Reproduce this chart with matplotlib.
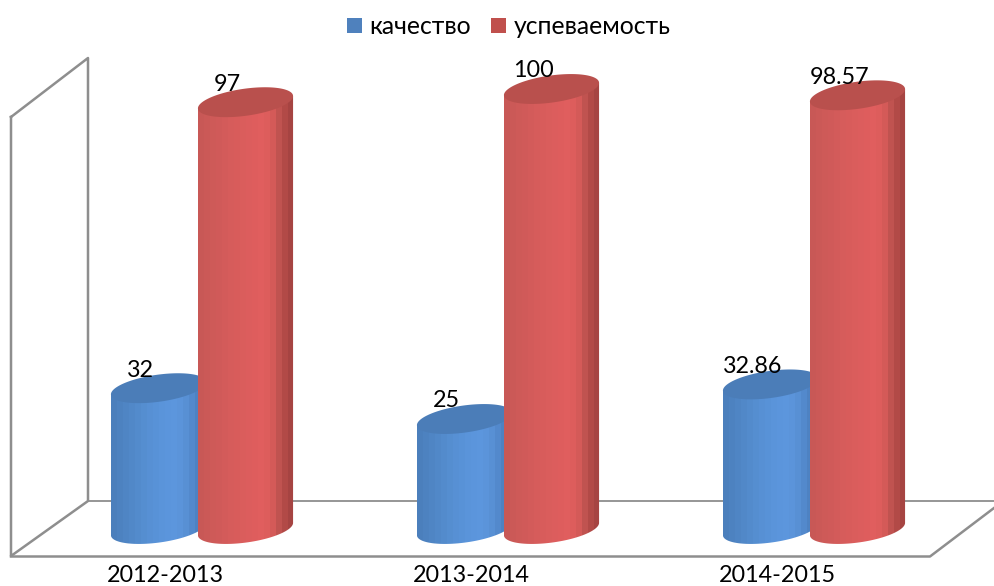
import numpy as np
import matplotlib
matplotlib.use("Agg")
import matplotlib.pyplot as plt
from matplotlib.patches import Patch, Polygon
from matplotlib.transforms import Affine2D
from matplotlib.colors import to_rgb

plt.rcParams['font.family'] = ['Lato', 'Open Sans', 'DejaVu Sans']

# data
years = ['2012-2013', '2013-2014', '2014-2015']
kachestvo = [32, 25, 32.86]
uspevaemost = [97, 100, 98.57]
kachestvo_labels = ['32', '25', '32.86']
uspevaemost_labels = ['97', '100', '98.57']

# scale: pixels per group and per value unit
PX_X = 306.0
PX_Y = 4.4
W, H = 994, 586

# stepped shading across the cylinder, left to right
BLUE_STOPS = ['#4b7fbc', '#4d82c0', '#4f85c4', '#5188c8', '#538bcc', '#558ed0', '#5790d4', '#5892d7',
              '#5a94da', '#5b95dc', '#5c96dd', '#5b94da', '#5890d4', '#5389cc', '#4e82c2', '#4a7bb6']
RED_STOPS = ['#c85856', '#cb5957', '#ce5a58', '#d05a59', '#d35b5a', '#d65c5b', '#d85c5b', '#da5d5c',
             '#dc5d5d', '#de5d5d', '#e05e5e', '#dd5d5c', '#d45a58', '#c05350', '#b24a47', '#a64442']
BLUE_TOP = '#4b7db8'
RED_TOP = '#b9504d'


def ellipse(cx, value, a=48, b=13.5, tilt=8):
    """Tilted ellipse around a data point, sizes given in pixels"""
    t = np.linspace(0, 2 * np.pi, 241)
    ang = np.radians(tilt)
    dx = a * np.cos(t) * np.cos(ang) - b * np.sin(t) * np.sin(ang)
    dy = a * np.cos(t) * np.sin(ang) + b * np.sin(t) * np.cos(ang)
    return cx + dx / PX_X, value + dy / PX_Y


def draw_cylinder(ax, cx, value, stops, top_color, z):
    bx, by = ellipse(cx, 0)
    tx, ty = ellipse(cx, value)
    il, ir = np.argmin(bx), np.argmax(bx)
    # lower half of the base, from right extreme to left extreme
    idx = np.arange(il, ir + 1) if ir > il else np.r_[il:len(bx), 0:ir + 1]
    verts = np.column_stack([np.r_[bx[idx], tx[ir], tx[il]], np.r_[by[idx], ty[ir], ty[il]]])
    body = Polygon(verts, closed=True, facecolor='none', edgecolor='none', zorder=z)
    ax.add_patch(body)
    img = np.array([[to_rgb(c) for c in stops]])
    im = ax.imshow(img, extent=(bx.min(), bx.max(), -5, 110), aspect='auto',
                   interpolation='nearest', zorder=z)
    im.set_clip_path(body)
    ax.fill(tx, ty, color=top_color, zorder=z + 0.1, lw=0)


fig = plt.figure(figsize=(W / 100, H / 100), dpi=100)
ax = fig.add_axes([0, 0, 1, 1])
ax.axis('off')

# grey 3D box of the chart, in pixel coordinates
px = Affine2D().scale(1 / W, -1 / H).translate(0, 1) + fig.transFigure
wall_color = '#8e8e8e'
ax.plot([11, 88, 88, 11, 11], [117, 58, 501, 556, 117], color=wall_color, lw=1.8, transform=px, zorder=1)
ax.plot([88, 994], [501, 501], color=wall_color, lw=1.3, transform=px, zorder=1)
ax.plot([11, 930, 994], [556.5, 556.5, 508], color=wall_color, lw=1.8, transform=px, zorder=1)

offset = 87 / PX_X / 2
for i in range(len(years)):
    draw_cylinder(ax, i - offset, kachestvo[i], BLUE_STOPS, BLUE_TOP, 2 + i)
    draw_cylinder(ax, i + offset, uspevaemost[i], RED_STOPS, RED_TOP, 2.5 + i)
    ax.annotate(kachestvo_labels[i], (i - offset, kachestvo[i]), xytext=(-13, 13), textcoords='offset points',
                ha='center', va='center', fontsize=16.8, color='black', zorder=10)
    ax.annotate(uspevaemost_labels[i], (i + offset, uspevaemost[i]), xytext=(-13, 13), textcoords='offset points',
                ha='center', va='center', fontsize=16.8, color='black', zorder=10)
    ax.annotate(years[i], (i, 0), xytext=(-26.5, -33.5), textcoords='offset points',
                ha='center', va='center', fontsize=16.8, color='black', zorder=10)

# 0 on the value scale sits at pixel y=529, first group centre at pixel x=202
ax.set_xlim(-202 / PX_X, (W - 202) / PX_X)
ax.set_ylim(-(H - 529) / PX_Y, 529 / PX_Y)

handles = [Patch(facecolor='#4f81bd', label='качество'), Patch(facecolor='#c0504d', label='успеваемость')]
fig.legend(handles=handles, loc='upper center', bbox_to_anchor=(0.512, 1.012), ncol=2, frameon=False,
           fontsize=17.8, handlelength=0.6, handleheight=0.6, handletextpad=0.32, columnspacing=0.8)

fig.savefig('out.png', dpi=100)
